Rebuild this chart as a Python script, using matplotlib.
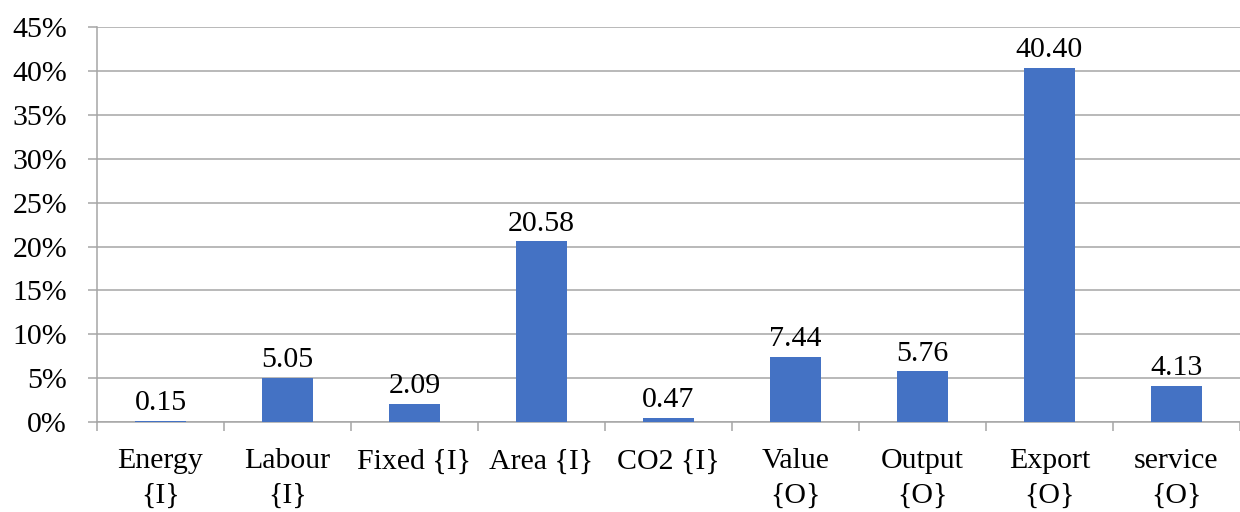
import matplotlib.pyplot as plt
import numpy as np
from matplotlib.ticker import FuncFormatter

plt.rcParams['font.family'] = ['Liberation Serif', 'DejaVu Serif']

categories = ['Energy\n{I}', 'Labour\n{I}', 'Fixed {I}', 'Area {I}', 'CO2 {I}',
              'Value\n{O}', 'Output\n{O}', 'Export\n{O}', 'service\n{O}']
values = [0.15, 5.05, 2.09, 20.58, 0.47, 7.44, 5.76, 40.40, 4.13]
value_labels = ['0.15', '5.05', '2.09', '20.58', '0.47', '7.44', '5.76', '40.40', '4.13']

grid_col = '#A6A6A6'
bar_col = '#4472C4'
fs = 21.5

fig = plt.figure(figsize=(12.4, 5.12), dpi=100)
ax = fig.add_axes([0.0782, 0.1758, 0.9218, 0.771])

x = np.arange(len(categories))
bars = ax.bar(x, values, width=0.4, color=bar_col, zorder=3)

for xi, v, lab in zip(x, values, value_labels):
    ax.text(xi, v + 0.5, lab, ha='center', va='bottom', fontsize=fs, color='black')

ax.set_ylim(0, 45)
ax.set_yticks(np.arange(0, 46, 5))
ax.yaxis.set_major_formatter(FuncFormatter(lambda v, p: f'{int(v)}%'))
ax.set_xlim(-0.5, 8.41)

# boundaries as major ticks, labels on minor ticks at centres
ax.set_xticks(np.arange(-0.5, 9, 1.0))
ax.set_xticklabels([])
ax.set_xticks(x, minor=True)
ax.set_xticklabels(categories, minor=True, fontsize=fs, linespacing=1.4)
ax.tick_params(axis='x', which='minor', length=0, pad=19)
ax.tick_params(axis='x', which='major', length=6.5, color=grid_col, width=1.1)
ax.tick_params(axis='y', length=6.5, color=grid_col, width=1.1, labelsize=fs, pad=15)

ax.yaxis.grid(True, color=grid_col, linewidth=1.1, zorder=0)
ax.set_axisbelow(True)
for s in ['top', 'right']:
    ax.spines[s].set_visible(False)
for s in ['left', 'bottom']:
    ax.spines[s].set_color(grid_col)
    ax.spines[s].set_linewidth(1.1)

fig.savefig('out.png', dpi=100)
